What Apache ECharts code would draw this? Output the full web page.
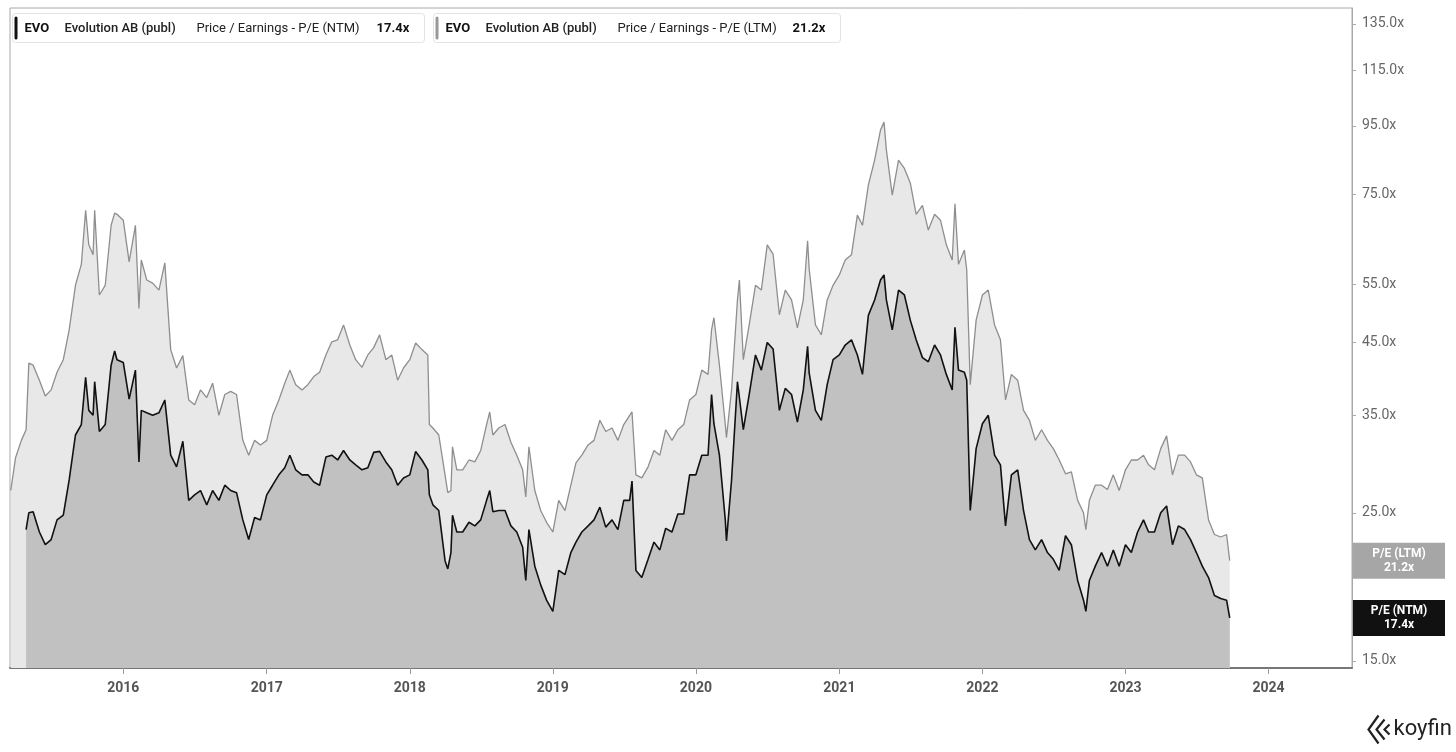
<!DOCTYPE html>
<html>
<head>
<meta charset="utf-8">
<script src="https://cdn.jsdelivr.net/npm/echarts@6/dist/echarts.min.js"></script>
<style>
  html,body{margin:0;padding:0;background:#fff;}
  #c{width:1456px;height:752px;}
</style>
</head>
<body>
<div id="c"></div>
<script>
const dates = [
 '2015-03-20','2015-04-01','2015-04-16','2015-04-28','2015-05-05','2015-05-16','2015-06-01','2015-06-16','2015-07-01','2015-07-16','2015-08-01','2015-08-16','2015-09-01','2015-09-16','2015-09-27','2015-10-05','2015-10-16','2015-10-20','2015-11-01','2015-11-16','2015-12-01','2015-12-10','2015-12-16',
 '2016-01-01','2016-01-16','2016-02-01','2016-02-10','2016-02-16','2016-03-01','2016-03-16','2016-04-01','2016-04-16','2016-05-01','2016-05-16','2016-06-01','2016-06-16','2016-07-01','2016-07-16','2016-08-01','2016-08-16','2016-09-01','2016-09-16','2016-10-01','2016-10-16','2016-11-01','2016-11-16','2016-12-01','2016-12-16',
 '2017-01-01','2017-01-16','2017-02-01','2017-02-16','2017-03-01','2017-03-16','2017-04-01','2017-04-16','2017-05-01','2017-05-16','2017-06-01','2017-06-16','2017-07-01','2017-07-16','2017-08-01','2017-08-16','2017-09-01','2017-09-16','2017-10-01','2017-10-16','2017-11-01','2017-11-16','2017-12-01','2017-12-16',
 '2018-01-01','2018-01-16','2018-02-01','2018-02-16','2018-02-20','2018-03-01','2018-03-16','2018-04-01','2018-04-08','2018-04-16','2018-04-20','2018-05-01','2018-05-16','2018-06-01','2018-06-16','2018-07-01','2018-07-16','2018-07-24','2018-08-01','2018-08-16','2018-09-01','2018-09-16','2018-10-01','2018-10-16','2018-10-24','2018-11-01','2018-11-16','2018-12-01','2018-12-16',
 '2019-01-01','2019-01-16','2019-02-01','2019-02-16','2019-03-01','2019-03-16','2019-04-01','2019-04-16','2019-05-01','2019-05-16','2019-06-01','2019-06-16','2019-07-01','2019-07-16','2019-07-22','2019-08-01','2019-08-16','2019-09-01','2019-09-16','2019-10-01','2019-10-16','2019-11-01','2019-11-16','2019-12-01','2019-12-16',
 '2020-01-01','2020-01-16','2020-02-01','2020-02-10','2020-02-16','2020-03-01','2020-03-16','2020-03-19','2020-04-01','2020-04-16','2020-04-21','2020-05-01','2020-05-16','2020-06-01','2020-06-16','2020-07-01','2020-07-16','2020-08-01','2020-08-16','2020-09-01','2020-09-16','2020-10-01','2020-10-12','2020-10-16','2020-11-01','2020-11-16','2020-12-01','2020-12-16',
 '2021-01-01','2021-01-16','2021-02-01','2021-02-16','2021-03-01','2021-03-16','2021-04-01','2021-04-16','2021-04-25','2021-05-01','2021-05-16','2021-06-01','2021-06-16','2021-07-01','2021-07-16','2021-08-01','2021-08-16','2021-09-01','2021-09-16','2021-10-01','2021-10-16','2021-10-23','2021-11-01','2021-11-16','2021-11-22','2021-12-01','2021-12-16',
 '2022-01-01','2022-01-16','2022-02-01','2022-02-16','2022-03-01','2022-03-16','2022-04-01','2022-04-16','2022-05-01','2022-05-16','2022-06-01','2022-06-16','2022-07-01','2022-07-16','2022-08-01','2022-08-16','2022-09-01','2022-09-16','2022-09-22','2022-10-01','2022-10-16','2022-11-01','2022-11-16','2022-12-01','2022-12-16',
 '2023-01-01','2023-01-16','2023-02-01','2023-02-16','2023-03-01','2023-03-16','2023-04-01','2023-04-16','2023-05-01','2023-05-16','2023-06-01','2023-06-16','2023-07-01','2023-07-16','2023-08-01','2023-08-16','2023-09-01','2023-09-16','2023-09-24'
];

// P/E (LTM)
const ltm = [
 27.0,30.2,32.1,33.3,41.9,41.6,39.5,37.4,38.2,40.6,42.4,47.0,54.8,58.9,71.0,63.0,60.9,71.0,53.0,54.8,67.4,70.3,70.0,
 68.6,59.4,67.4,50.6,59.8,55.8,55.2,53.9,59.2,43.9,41.2,43.0,36.9,36.3,38.2,37.2,39.1,35.0,37.6,38.0,37.6,32.1,30.5,32.1,31.6,
 32.1,35.0,36.9,39.1,40.9,38.9,38.2,38.9,40.0,40.6,43.1,45.1,45.4,47.8,44.6,42.4,41.3,43.1,44.2,46.2,42.4,43.1,39.5,41.2,
 42.4,44.9,43.9,43.1,33.9,33.5,32.7,28.5,26.8,27.0,31.4,29.0,29.0,30.0,29.8,31.0,33.9,35.4,32.7,33.5,33.9,31.9,30.5,29.0,26.4,31.4,27.0,25.2,24.2,
 23.4,26.1,25.2,27.5,29.7,30.5,31.6,32.1,34.4,33.1,33.5,32.1,33.9,35.0,35.4,28.5,28.2,29.3,31.0,30.5,33.3,32.1,33.3,33.9,36.9,
 37.6,40.9,40.3,47.0,49.0,41.6,33.9,32.4,38.2,52.1,55.8,42.4,47.8,54.8,53.9,63.0,61.0,49.5,53.9,52.1,47.3,52.1,63.9,58.0,47.8,46.2,52.1,54.8,
 56.8,59.8,60.9,69.8,67.4,77.4,84.4,93.6,96.2,87.4,74.8,84.4,82.0,78.0,70.0,72.2,66.3,70.0,68.6,63.0,59.8,72.6,58.9,61.9,57.8,38.9,48.6,
 53.0,53.9,47.8,45.4,36.9,40.3,39.5,35.6,34.4,32.1,33.3,32.1,31.2,30.0,28.6,28.8,26.1,25.0,23.6,26.1,27.5,27.5,27.1,28.5,27.0,
 29.0,30.0,30.0,30.5,29.5,29.0,31.2,32.6,28.5,30.5,30.5,29.8,28.5,28.2,24.4,23.2,23.0,23.2,21.2
];

// P/E (NTM)
const ntm = [
 null,null,null,23.6,25.0,25.1,23.4,22.4,22.8,24.4,24.8,28.0,32.7,33.9,39.9,35.6,35.0,39.3,33.1,33.9,41.6,43.7,42.4,
 42.0,37.0,40.9,29.8,35.6,35.3,35.0,35.3,36.9,30.5,29.3,32.0,26.1,26.6,27.0,25.7,27.0,26.1,27.5,27.0,26.8,24.4,22.8,24.6,24.4,
 26.6,27.5,28.5,29.2,30.5,29.0,28.5,28.5,27.8,27.5,30.3,30.5,30.0,31.0,30.0,29.5,29.0,29.2,30.8,30.9,29.8,29.0,27.5,28.2,
 28.5,30.9,30.0,29.0,26.6,25.7,25.2,21.2,20.6,21.8,24.8,23.4,23.4,24.2,23.9,24.4,26.1,27.0,25.1,25.2,25.2,23.9,23.4,22.2,19.8,23.6,20.8,19.5,18.5,
 17.8,20.5,20.2,21.8,22.6,23.4,23.9,24.4,25.5,23.8,24.4,23.6,26.1,26.1,27.9,20.5,20.0,21.3,22.6,22.0,23.7,23.4,24.9,24.9,28.5,
 28.5,30.5,30.5,37.6,34.0,30.5,24.4,22.7,28.0,39.3,39.3,33.3,37.6,43.1,40.9,45.0,44.0,35.6,38.4,37.6,34.2,38.2,44.4,40.5,35.6,34.4,38.9,42.4,
 43.1,44.6,45.4,43.1,40.3,49.4,52.1,55.8,56.8,52.1,47.0,53.9,53.0,48.6,45.4,42.7,42.1,44.6,43.1,40.3,38.2,47.4,40.9,40.6,39.5,25.2,31.2,
 34.0,35.0,30.5,29.5,23.9,28.5,29.0,25.2,22.8,22.0,22.8,21.8,21.3,20.5,23.1,22.4,19.8,18.5,17.8,19.8,20.8,21.8,20.8,22.0,20.8,
 22.4,21.8,23.4,24.4,23.4,23.4,25.0,25.6,22.4,23.9,23.6,22.8,21.8,20.8,20.0,18.8,18.6,18.5,17.4
];

const yearLabels = ['2016','2017','2018','2019','2020','2021','2022','2023','2024'];
const yTicks = [15,25,35,45,55,75,95,115,135];

const ticker = 'EVO';
const company = 'Evolution AB (publ)';
const metricNTM = 'Price / Earnings - P/E (NTM)';
const metricLTM = 'Price / Earnings - P/E (LTM)';
const shortNTM = 'P/E (NTM)';
const shortLTM = 'P/E (LTM)';
const brand = 'koyfin';

const ltmData = dates.map((d, i) => [d, ltm[i]]);
const ntmData = dates.map((d, i) => [d, ntm[i]]);
const lastLTM = ltm[ltm.length - 1];
const lastNTM = ntm[ntm.length - 1];

const chart = echarts.init(document.getElementById('c'), null, {renderer: 'canvas'});

const FONT = 'Roboto, "Liberation Sans", Arial, sans-serif';
const YEAR_MS = 365 * 24 * 3600 * 1000;

function legendBox(x, w, barColor, name, metric, valueText) {
  return {
    type: 'group', left: x, top: 13,
    children: [
      {type: 'rect', shape: {x: 0, y: 0, width: w, height: 29, r: 3},
       style: {fill: '#fff', stroke: '#e3e3e3', lineWidth: 1}},
      {type: 'rect', shape: {x: 2, y: 3, width: 3, height: 23, r: 1.5},
       style: {fill: barColor}},
      {type: 'text', x: 12, y: 15, style: {text: ticker, font: 'bold 13px ' + FONT, fill: '#111', verticalAlign: 'middle'}},
      {type: 'text', x: 52, y: 15, style: {text: name, font: '500 13px ' + FONT, fill: '#222', verticalAlign: 'middle'}},
      {type: 'text', x: 184, y: 15, style: {text: metric, font: '13px ' + FONT, fill: '#222', verticalAlign: 'middle'}},
      {type: 'text', x: w - 48, y: 15, style: {text: valueText, font: 'bold 13px ' + FONT, fill: '#111', verticalAlign: 'middle'}}
    ]
  };
}

const option = {
  animation: false,
  backgroundColor: '#fff',
  grid: {left: 10, right: 104, top: 8, bottom: 84, show: true, borderColor: '#a8a8a8', borderWidth: 1, backgroundColor: '#fff'},
  xAxis: {
    type: 'time',
    min: '2015-03-18',
    max: '2024-08-01',
    minInterval: YEAR_MS,
    splitNumber: 9,
    axisLine: {show: true, lineStyle: {color: '#777', width: 2}},
    axisTick: {show: true, length: 6, lineStyle: {color: '#999'}},
    axisLabel: {
      formatter: v => {
        const y = String(new Date(v).getFullYear());
        return yearLabels.indexOf(y) >= 0 ? y : '';
      },
      color: '#555', fontSize: 14, fontWeight: 'bold', fontFamily: FONT, margin: 13
    },
    splitLine: {show: false}
  },
  yAxis: {
    type: 'log',
    position: 'right',
    min: 14.64,
    max: 142.6,
    axisLine: {show: true, lineStyle: {color: '#a8a8a8'}},
    axisTick: {show: true, length: 4, lineStyle: {color: '#aaa'}, customValues: yTicks},
    axisLabel: {
      customValues: yTicks,
      formatter: v => Number(v).toFixed(1) + 'x',
      color: '#666', fontSize: 14, fontFamily: FONT, margin: 10
    },
    splitLine: {show: false}
  },
  series: [
    {
      name: shortLTM, type: 'line', data: ltmData, showSymbol: false, symbol: 'none',
      lineStyle: {color: '#8e8e8e', width: 1.3},
      areaStyle: {color: '#e8e8e8', opacity: 1},
      z: 2
    },
    {
      name: shortNTM, type: 'line', data: ntmData, showSymbol: false, symbol: 'none',
      lineStyle: {color: '#111', width: 1.6},
      areaStyle: {color: '#c1c1c1', opacity: 1},
      z: 3
    }
  ]
};

chart.setOption(option);

function badge(y, fill, title, val) {
  return {
    type: 'group', left: 1353, top: y - 18,
    children: [
      {type: 'rect', shape: {x: 0, y: 0, width: 92, height: 36}, style: {fill: fill}},
      {type: 'text', x: 46, y: 11, style: {text: title, font: 'bold 12px ' + FONT, fill: '#fff', align: 'center', verticalAlign: 'middle'}},
      {type: 'text', x: 46, y: 25, style: {text: val, font: 'bold 12px ' + FONT, fill: '#fff', align: 'center', verticalAlign: 'middle'}}
    ]
  };
}

// End-value badges on the right axis, placed through the axis scale
let yL = chart.convertToPixel({yAxisIndex: 0}, lastLTM);
let yN = chart.convertToPixel({yAxisIndex: 0}, lastNTM);
if (!isFinite(yL)) yL = 561;
if (!isFinite(yN)) yN = 618;

chart.setOption({
  graphic: [
    legendBox(12, 412, '#111', company, metricNTM, lastNTM.toFixed(1) + 'x'),
    legendBox(433, 407, '#999', company, metricLTM, lastLTM.toFixed(1) + 'x'),
    badge(yL, '#a6a6a6', shortLTM, lastLTM.toFixed(1) + 'x'),
    badge(yN, '#111111', shortNTM, lastNTM.toFixed(1) + 'x'),
    {
      type: 'group', left: 1366, top: 713,
      children: [
        {type: 'polyline', shape: {points: [[11, 0], [1, 14], [11, 28]]}, style: {stroke: '#222', lineWidth: 2.2, fill: null}},
        {type: 'polyline', shape: {points: [[17, 4], [9, 14], [17, 24]]}, style: {stroke: '#222', lineWidth: 2.2, fill: null}},
        {type: 'polyline', shape: {points: [[22, 9], [17, 14], [22, 19]]}, style: {stroke: '#222', lineWidth: 2.2, fill: null}},
        {type: 'text', x: 26, y: 14, style: {text: brand, font: '22px ' + FONT, fill: '#222', verticalAlign: 'middle'}}
      ]
    }
  ]
});
</script>
</body>
</html>
